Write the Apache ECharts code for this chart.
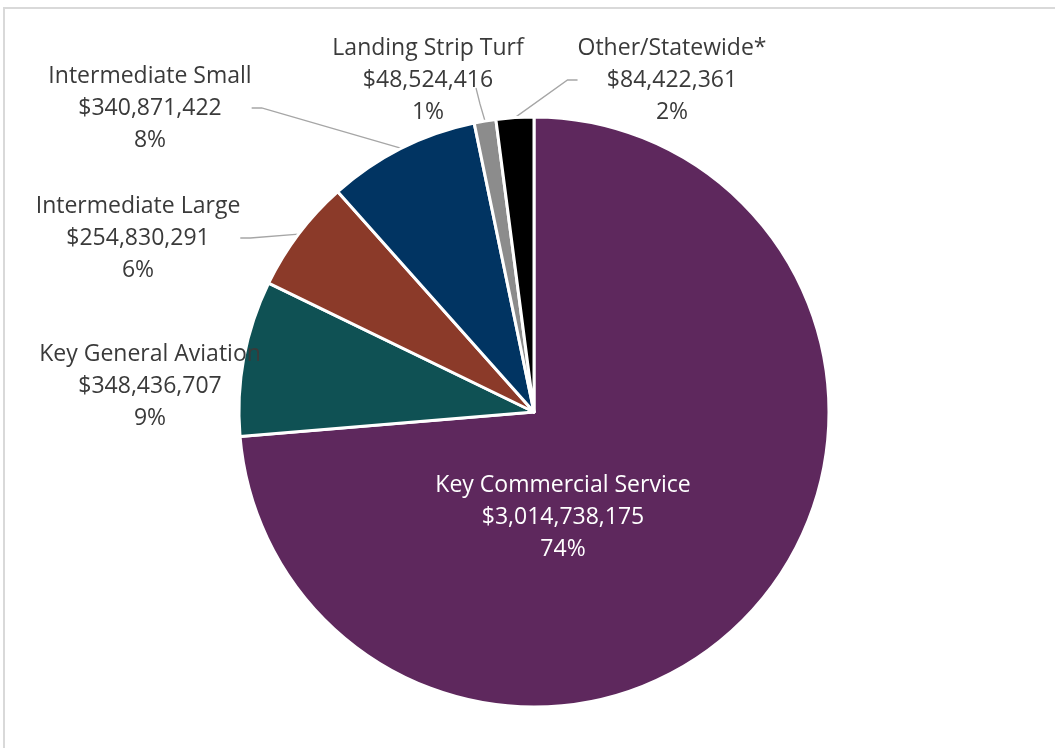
<!DOCTYPE html>
<html>
<head>
<meta charset="utf-8">
<script src="https://cdn.jsdelivr.net/npm/echarts@6/dist/echarts.min.js"></script>
<style>
html,body{margin:0;padding:0;background:#fff;overflow:hidden;}
#frame{position:absolute;left:3px;top:7px;width:1200px;height:900px;border-left:2px solid #d9d9d9;border-top:2px solid #d9d9d9;}
#chart{position:absolute;left:0;top:0;width:1055px;height:748px;}
</style>
</head>
<body>
<div id="frame"></div>
<div id="chart"></div>
<script>
const categories = ["Key Commercial Service","Key General Aviation","Intermediate Large","Intermediate Small","Landing Strip Turf","Other/Statewide*"];
const values = [3014738175, 348436707, 254830291, 340871422, 48524416, 84422361];
const colors = ["#5E285D","#0F5154","#8B3A29","#013462","#8C8C8C","#000000"];

// label block centres (layout only)
const labelPos = [[563,517],[150,386],[138,238],[150,108],[428,80],[672,80]];

const chart = echarts.init(document.getElementById('chart'));
const data = categories.map((c,i)=>{
  const d = {name:c, value:values[i], itemStyle:{color:colors[i]}};
  if(i===0){
    d.label = {position:'inside', color:'#ffffff'};
    d.labelLine = {show:false};
  }
  return d;
});
chart.setOption({
  animation:false,
  series:[{
    type:'pie',
    center:[534,412],
    radius:[0,295],
    startAngle:90,
    clockwise:true,
    percentPrecision:0,
    avoidLabelOverlap:false,
    data:data,
    itemStyle:{borderColor:'#ffffff',borderWidth:3},
    label:{
      show:true,
      position:'outside',
      formatter:p=>p.name+'\n$'+p.value.toLocaleString('en-US')+'\n'+p.percent+'%',
      fontFamily:'Open Sans',
      fontSize:23,
      lineHeight:32,
      color:'#3a3a3a',
      align:'center'
    },
    labelLine:{show:true,length:10,length2:10,lineStyle:{color:'#A6A6A6',width:1.3}},
    labelLayout:function(params){
      const p = labelPos[params.dataIndex];
      const r = {x:p[0], y:p[1], align:'center', verticalAlign:'middle'};
      if(params.dataIndex===4){
        r.labelLinePoints = [[476,88],[480,104],[485,121]];
      }
      return r;
    }
  }]
});
</script>
</body>
</html>
